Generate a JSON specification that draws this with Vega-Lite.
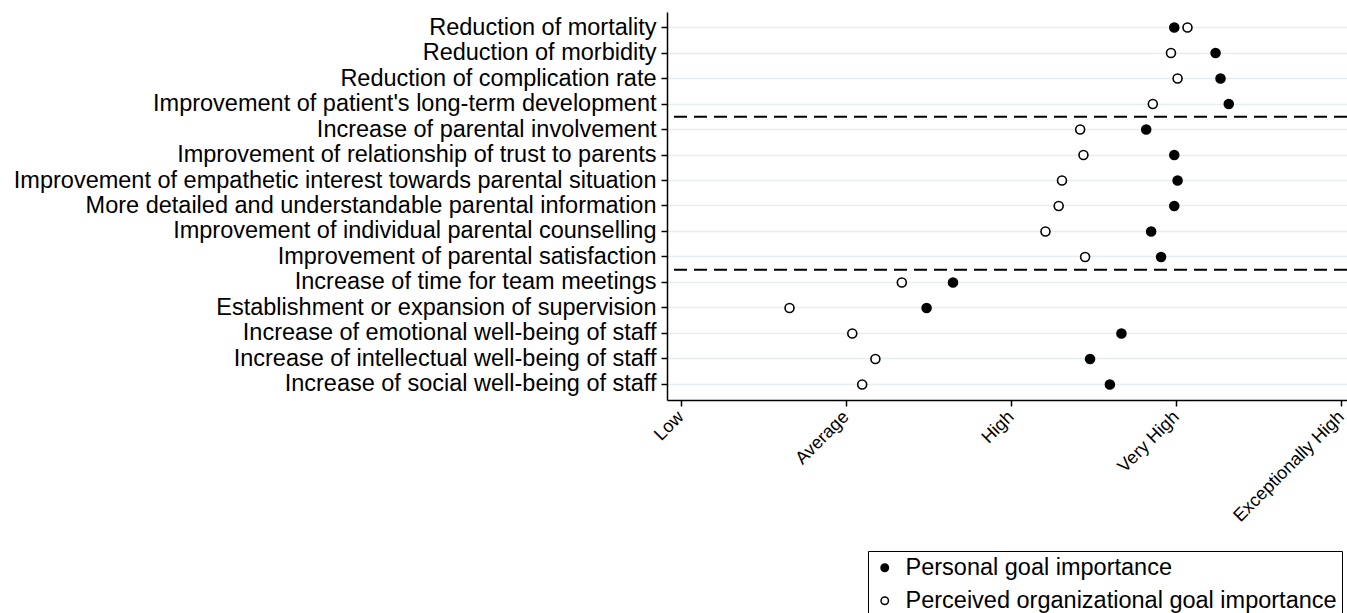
{
  "$schema": "https://vega.github.io/schema/vega-lite/v6.json",
  "autosize": {"type": "none"},
  "padding": {"left": 667, "top": 12, "right": 0, "bottom": 213},
  "width": 680,
  "height": 388,
  "background": "white",
  "config": {
    "view": {"stroke": null},
    "font": "Liberation Sans"
  },
  "datasets": {
    "pts": [
      {"goal": "Reduction of mortality", "measure": "Personal goal importance", "value": 3.99},
      {"goal": "Reduction of mortality", "measure": "Perceived organizational goal importance", "value": 4.07},
      {"goal": "Reduction of morbidity", "measure": "Personal goal importance", "value": 4.24},
      {"goal": "Reduction of morbidity", "measure": "Perceived organizational goal importance", "value": 3.97},
      {"goal": "Reduction of complication rate", "measure": "Personal goal importance", "value": 4.27},
      {"goal": "Reduction of complication rate", "measure": "Perceived organizational goal importance", "value": 4.01},
      {"goal": "Improvement of patient's long-term development", "measure": "Personal goal importance", "value": 4.32},
      {"goal": "Improvement of patient's long-term development", "measure": "Perceived organizational goal importance", "value": 3.86},
      {"goal": "Increase of parental involvement", "measure": "Personal goal importance", "value": 3.82},
      {"goal": "Increase of parental involvement", "measure": "Perceived organizational goal importance", "value": 3.42},
      {"goal": "Improvement of relationship of trust to parents", "measure": "Personal goal importance", "value": 3.99},
      {"goal": "Improvement of relationship of trust to parents", "measure": "Perceived organizational goal importance", "value": 3.44},
      {"goal": "Improvement of empathetic interest towards parental situation", "measure": "Personal goal importance", "value": 4.01},
      {"goal": "Improvement of empathetic interest towards parental situation", "measure": "Perceived organizational goal importance", "value": 3.31},
      {"goal": "More detailed and understandable parental information", "measure": "Personal goal importance", "value": 3.99},
      {"goal": "More detailed and understandable parental information", "measure": "Perceived organizational goal importance", "value": 3.29},
      {"goal": "Improvement of individual parental counselling", "measure": "Personal goal importance", "value": 3.85},
      {"goal": "Improvement of individual parental counselling", "measure": "Perceived organizational goal importance", "value": 3.21},
      {"goal": "Improvement of parental satisfaction", "measure": "Personal goal importance", "value": 3.91},
      {"goal": "Improvement of parental satisfaction", "measure": "Perceived organizational goal importance", "value": 3.45},
      {"goal": "Increase of time for team meetings", "measure": "Personal goal importance", "value": 2.65},
      {"goal": "Increase of time for team meetings", "measure": "Perceived organizational goal importance", "value": 2.34},
      {"goal": "Establishment or expansion of supervision ", "measure": "Personal goal importance", "value": 2.49},
      {"goal": "Establishment or expansion of supervision ", "measure": "Perceived organizational goal importance", "value": 1.66},
      {"goal": "Increase of emotional well-being of staff", "measure": "Personal goal importance", "value": 3.67},
      {"goal": "Increase of emotional well-being of staff", "measure": "Perceived organizational goal importance", "value": 2.04},
      {"goal": "Increase of intellectual well-being of staff", "measure": "Personal goal importance", "value": 3.48},
      {"goal": "Increase of intellectual well-being of staff", "measure": "Perceived organizational goal importance", "value": 2.18},
      {"goal": "Increase of social well-being of staff", "measure": "Personal goal importance", "value": 3.6},
      {"goal": "Increase of social well-being of staff", "measure": "Perceived organizational goal importance", "value": 2.1}
    ],
    "dividers": [
      {"goal": "Improvement of patient's long-term development"},
      {"goal": "Improvement of parental satisfaction"}
    ]
  },
  "layer": [
    {
      "data": {"name": "pts"},
      "mark": {"type": "point", "shape": "circle", "filled": true, "stroke": "black", "strokeWidth": 1.6, "size": 80, "opacity": 1},
      "encoding": {
        "y": {
          "field": "goal", "type": "nominal", "sort": null,
          "scale": {"type": "band", "paddingInner": 0, "paddingOuter": 0.108},
          "axis": {
            "title": null, "bandPosition": 0.5, "grid": true, "gridColor": "#e6eef0", "gridWidth": 1.3,
            "domainColor": "black", "domainWidth": 1.5, "tickColor": "black", "tickWidth": 1.5, "tickSize": 6,
            "labelFontSize": 23.5, "labelColor": "black", "labelPadding": 5, "labelLimit": 0, "labelFont": "Liberation Sans"
          }
        },
        "x": {
          "field": "value", "type": "quantitative",
          "scale": {"domain": [0.918, 5.036], "nice": false, "zero": false},
          "axis": {
            "title": null, "values": [1, 2, 3, 4, 5], "grid": false,
            "labelExpr": "['', 'Low', 'Average', 'High', 'Very High', 'Exceptionally High'][datum.value]",
            "labelAngle": -45, "labelAlign": "right", "labelBaseline": "middle", "labelPadding": 8,
            "labelFontSize": 18, "labelColor": "black", "labelFont": "Liberation Sans",
            "domainColor": "black", "domainWidth": 1.5, "tickColor": "black", "tickWidth": 1.5, "tickSize": 6
          }
        },
        "fill": {
          "field": "measure", "type": "nominal",
          "scale": {"domain": ["Personal goal importance", "Perceived organizational goal importance"], "range": ["black", "white"]},
          "legend": {
            "title": null, "orient": "none", "legendX": 201, "legendY": 539,
            "strokeColor": "black", "padding": 5, "labelFontSize": 23.5, "labelColor": "black", "labelFont": "Liberation Sans",
            "labelLimit": 0, "symbolType": "circle", "symbolSize": 55, "symbolStrokeColor": "black", "symbolStrokeWidth": 1.5,
            "rowPadding": 8, "labelOffset": 9
          }
        }
      }
    },
    {
      "data": {"name": "dividers"},
      "mark": {"type": "rule", "color": "black", "strokeWidth": 2, "strokeDash": [13, 7]},
      "encoding": {
        "y": {"field": "goal", "type": "nominal", "sort": null, "bandPosition": 1}
      }
    }
  ]
}
